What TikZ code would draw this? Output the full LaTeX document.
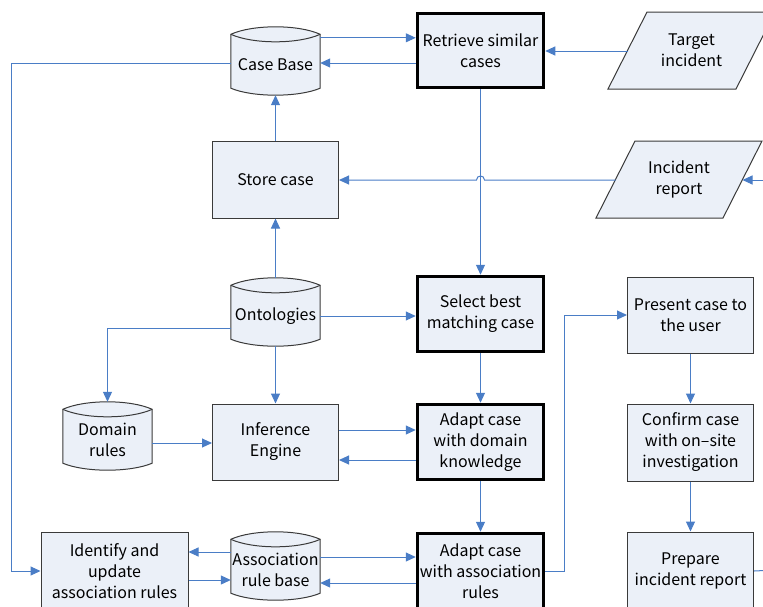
\documentclass[tikz,border=0pt]{standalone}
\usepackage{fontspec}
\setmainfont{Noto Sans CJK JP}
\usetikzlibrary{arrows.meta,calc,backgrounds}
\definecolor{fillc}{HTML}{EBF0F8}
\definecolor{linec}{HTML}{4A7DC6}
\definecolor{borderc}{HTML}{3A3A3A}
\begin{document}
\begin{tikzpicture}[x=1pt,y=-1pt,
 every node/.style={font=\fontsize{16}{21}\selectfont, align=center},
 box/.style={draw=borderc, line width=1pt, fill=fillc, minimum width=126pt, minimum height=77pt, inner sep=0pt},
 thickbox/.style={box, draw=black, line width=3.5pt, minimum height=75pt},
 cyl/.style={minimum width=89pt, minimum height=46pt, inner sep=0pt},
 cylshape/.style={draw=borderc, line width=1pt, fill=fillc},
 para/.style={draw=borderc, line width=1pt, fill=fillc},
 arr/.style={draw=linec, line width=1pt, -{Triangle[length=10pt,width=9pt]}},
 ln/.style={draw=linec, line width=1pt}]
\useasboundingbox (0,0) rectangle (763,606);
\clip (0,0) rectangle (763,606);

% parallelograms
\path[para] (608,89) -- (647,12) -- (775,12) -- (736,89) -- cycle;
\path[para] (596,218) -- (635,141) -- (762,141) -- (723,218) -- cycle;

% boxes
\node[thickbox, minimum height=74pt] (rs) at (480.5,50.5) {Retrieve similar\\cases};
\node[box] (sc) at (275.5,179.5) {Store case};
\node[thickbox] (sb) at (480.5,314) {Select best\\matching case};
\node[thickbox] (ad) at (480.5,442) {Adapt case\\with domain\\knowledge};
\node[thickbox] (aa) at (480.5,571) {Adapt case\\with association\\rules};
\node[box, minimum height=76pt] (ie) at (275.5,442) {Inference\\Engine};
\node[box, minimum width=147pt, minimum height=78pt] (iu) at (114.5,571) {Identify and\\update\\association rules};
\node[box, minimum height=76pt] (pc) at (690.5,315) {Present case to\\the user};
\node[box] (cc) at (690.5,442.5) {Confirm case\\with on–site\\investigation};
\node[box, minimum height=78pt] (pr) at (690.5,571) {Prepare\\incident report};

% parallelogram texts
\node (ti) at (691.5,50.5) {Target\\incident};
\node (ir) at (679,179.5) {Incident\\report};
\coordinate (tiL) at (627.5,51);
\coordinate (irL) at (615.5,180);
\coordinate (irR) at (742.5,180);
\coordinate (irIn) at (775,180);
\coordinate (prOut) at (775,570);

% cylinders
\node[cyl] (cb) at (275.5,65) {Case Base};
\node[cyl] (on) at (275.5,316) {Ontologies};
\node[cyl] (dr) at (107.5,440) {Domain\\rules};
\node[cyl] (arb) at (275.5,570) {Association\\rule base};

\begin{scope}[on background layer]
\foreach \n in {cb,on,dr,arb}{
 \path[cylshape] ($(\n.north west)+(0,-7.5)$) .. controls +(22,-10) and +(-22,-10) .. ($(\n.north east)+(0,-7.5)$)
   -- (\n.south east) .. controls +(-22,9.3) and +(22,9.3) .. (\n.south west) -- cycle;
 \draw[borderc, line width=1pt] ($(\n.north west)+(0,-7.5)$) .. controls +(22,10) and +(-22,10) .. ($(\n.north east)+(0,-7.5)$);
}
\end{scope}

% connectors
\draw[arr] ([yshift=4pt]cb.north east) -- ([yshift=4pt]cb.north east -| rs.west);
\draw[arr] ([yshift=2pt]cb.east -| rs.west) -- ([yshift=2pt]cb.east);
\draw[arr] (tiL) -- (tiL -| rs.east);
\draw[arr] ([yshift=2pt]cb.west) -- ++(-219,0) |- (iu.west);
\draw[arr] (sc.north) -- ([yshift=-7pt]cb.south);
\draw[arr] ([yshift=15pt]on.north) -- (sc.south);
\draw[arr] (rs.south) -- (sb.north);
\draw[arr] (irL) -- ([xshift=4pt]irL -| rs.south) .. controls +(0,-5.3) and +(0,-5.3) .. ([xshift=-4pt]irL -| rs.south) -- (irL -| sc.east);
\draw[arr] (irIn) -- (irR);
\draw[arr] (on.east) -- (on.east -| sb.west);
\draw[arr] ([yshift=-12pt]on.west) -| ([yshift=15pt]dr.north);
\draw[arr] ([yshift=-7pt]on.south) -- (ie.north);
\draw[arr] ([yshift=-3pt]dr.east) -- ([yshift=-3pt]dr.east -| ie.west);
\draw[arr] ([yshift=12pt]ie.east) -- ([yshift=12pt]ie.east -| ad.west);
\draw[arr] ([yshift=-18pt]ad.west) -- ([yshift=-18pt]ad.west -| ie.east);
\draw[arr] (sb.south) -- (ad.north);
\draw[arr] (ad.south) -- (aa.north);
\draw[arr] ([yshift=18pt]arb.west) -- ([yshift=18pt]arb.west -| iu.east);
\draw[arr] ([yshift=-9pt]iu.east) -- ([yshift=-9pt]iu.east -| arb.west);
\draw[arr] ([yshift=13pt]arb.east) -- ([yshift=13pt]arb.east -| aa.west);
\draw[arr] ([yshift=-12pt]aa.west) -- ([yshift=-12pt]aa.west -| arb.east);
\draw[arr] (aa.east) -- ++(19,0) |- (pc.west);
\draw[arr] (pc.south) -- (cc.north);
\draw[arr] (cc.south) -- (pr.north);
\draw[ln] (pr.east) -- (prOut);
\end{tikzpicture}
\end{document}
